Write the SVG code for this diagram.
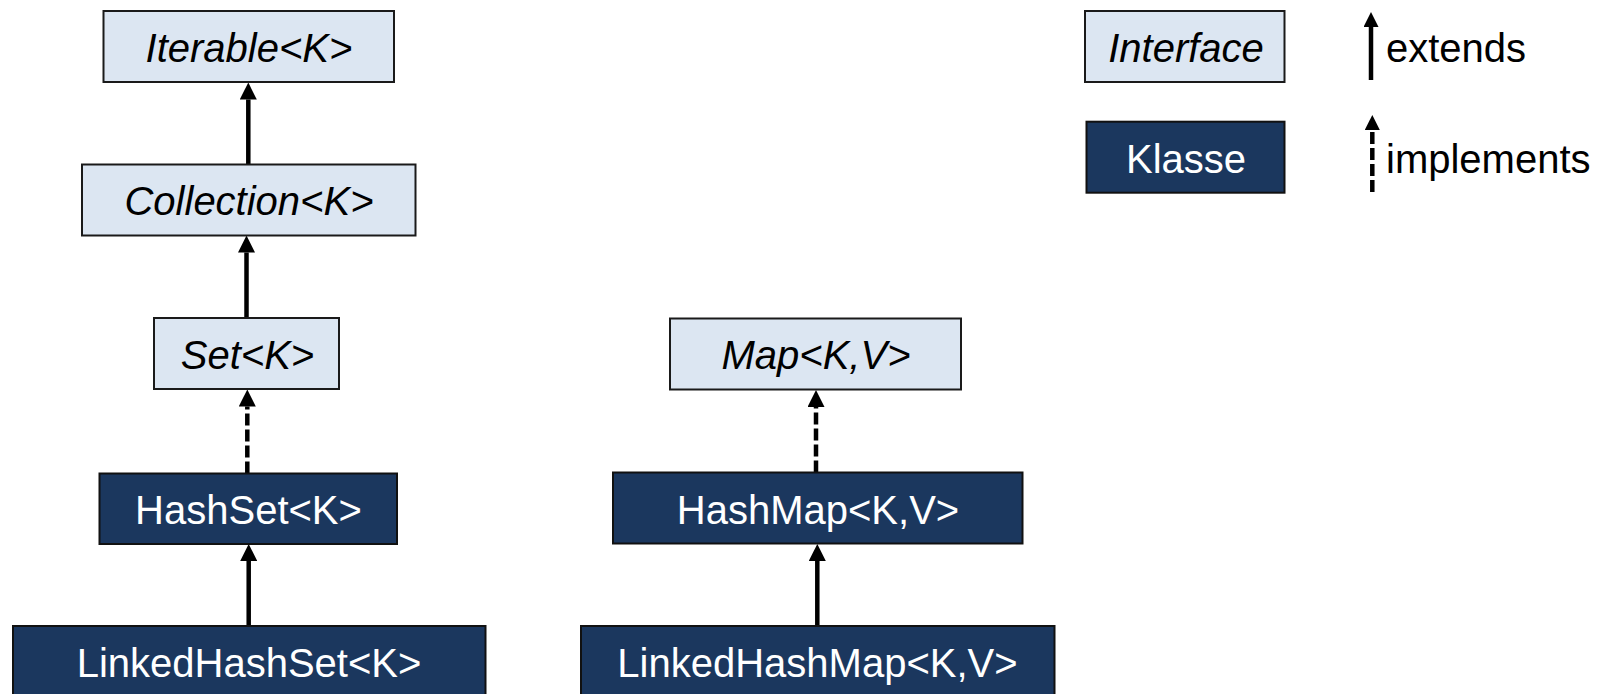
<svg xmlns="http://www.w3.org/2000/svg" width="1609" height="694" viewBox="0 0 1609 694">
  <style>
    .iface rect { fill: #dce6f2; stroke: #1a1a1a; stroke-width: 2; }
    .klass rect { fill: #1b375e; stroke: #111111; stroke-width: 2; }
    text { font-family: "Liberation Sans", Arial, sans-serif; font-size: 40px; text-anchor: middle; }
    .iface text { font-style: italic; fill: #000000; }
    .klass text { fill: #ffffff; }
    .legend-label { text-anchor: start; fill: #000000; }
    .edge { stroke: #000000; stroke-width: 4.5; fill: none; }
    .extends { marker-end: url(#head); }
    .implements { stroke-dasharray: 12 4; marker-end: url(#head); }
    .legend-edge { stroke: #000000; stroke-width: 4.5; fill: none; marker-end: url(#head-small); }
    .legend-edge.dashed { stroke-dasharray: 12 4; }
  </style>
  <defs>
    <marker id="head" markerUnits="userSpaceOnUse" markerWidth="17" markerHeight="17" refX="0" refY="8.5" orient="auto">
      <path d="M0,0 L17,8.5 L0,17 Z" fill="#000000"/>
    </marker>
    <marker id="head-small" markerUnits="userSpaceOnUse" markerWidth="15" markerHeight="15" refX="0" refY="7.5" orient="auto">
      <path d="M0,0 L15,7.5 L0,15 Z" fill="#000000"/>
    </marker>
  </defs>

  <rect x="0" y="0" width="1609" height="694" fill="#ffffff"/>

  <!-- inheritance connectors: child top edge up to arrowhead base -->
  <g id="connectors">
    <line class="edge extends" x1="248.3" y1="164.5" x2="248.3" y2="99.5"/>
    <line class="edge extends" x1="246.5" y1="318" x2="246.5" y2="252.5"/>
    <line class="edge implements" x1="247.3" y1="473.5" x2="247.3" y2="406.5"/>
    <line class="edge extends" x1="248.7" y1="626" x2="248.7" y2="561"/>
    <line class="edge implements" x1="816" y1="472.5" x2="816" y2="407"/>
    <line class="edge extends" x1="817.3" y1="626" x2="817.3" y2="561"/>
  </g>

  <!-- interfaces -->
  <g id="iterable" class="iface">
    <rect x="103.5" y="11" width="290.5" height="71"/>
    <text x="249" y="62">Iterable&lt;K&gt;</text>
  </g>
  <g id="collection" class="iface">
    <rect x="82" y="164.5" width="333.5" height="71"/>
    <text x="249" y="214.5">Collection&lt;K&gt;</text>
  </g>
  <g id="set" class="iface">
    <rect x="154" y="318" width="185" height="71"/>
    <text x="247.5" y="368.5">Set&lt;K&gt;</text>
  </g>
  <g id="map" class="iface">
    <rect x="670" y="318.5" width="291" height="71"/>
    <text x="816" y="369">Map&lt;K,V&gt;</text>
  </g>

  <!-- classes -->
  <g id="hashset" class="klass">
    <rect x="99.5" y="473.5" width="297.5" height="70.5"/>
    <text x="248.5" y="524">HashSet&lt;K&gt;</text>
  </g>
  <g id="linkedhashset" class="klass">
    <rect x="13" y="626" width="472.5" height="72"/>
    <text x="249" y="676.5">LinkedHashSet&lt;K&gt;</text>
  </g>
  <g id="hashmap" class="klass">
    <rect x="613" y="472.5" width="409.5" height="71"/>
    <text x="818" y="523.5">HashMap&lt;K,V&gt;</text>
  </g>
  <g id="linkedhashmap" class="klass">
    <rect x="581" y="626" width="473.5" height="72"/>
    <text x="817.5" y="676.5">LinkedHashMap&lt;K,V&gt;</text>
  </g>

  <!-- legend -->
  <g id="legend-interface" class="iface">
    <rect x="1085" y="11" width="199.5" height="71"/>
    <text x="1186" y="62">Interface</text>
  </g>
  <g id="legend-class" class="klass">
    <rect x="1086.5" y="121.7" width="198" height="71"/>
    <text x="1186" y="172.5">Klasse</text>
  </g>
  <g id="legend-extends">
    <line class="legend-edge" x1="1371" y1="80" x2="1371" y2="27"/>
    <text class="legend-label" x="1386" y="62">extends</text>
  </g>
  <g id="legend-implements">
    <line class="legend-edge dashed" x1="1372.3" y1="192" x2="1372.3" y2="130"/>
    <text class="legend-label" x="1386" y="173.3">implements</text>
  </g>
</svg>
